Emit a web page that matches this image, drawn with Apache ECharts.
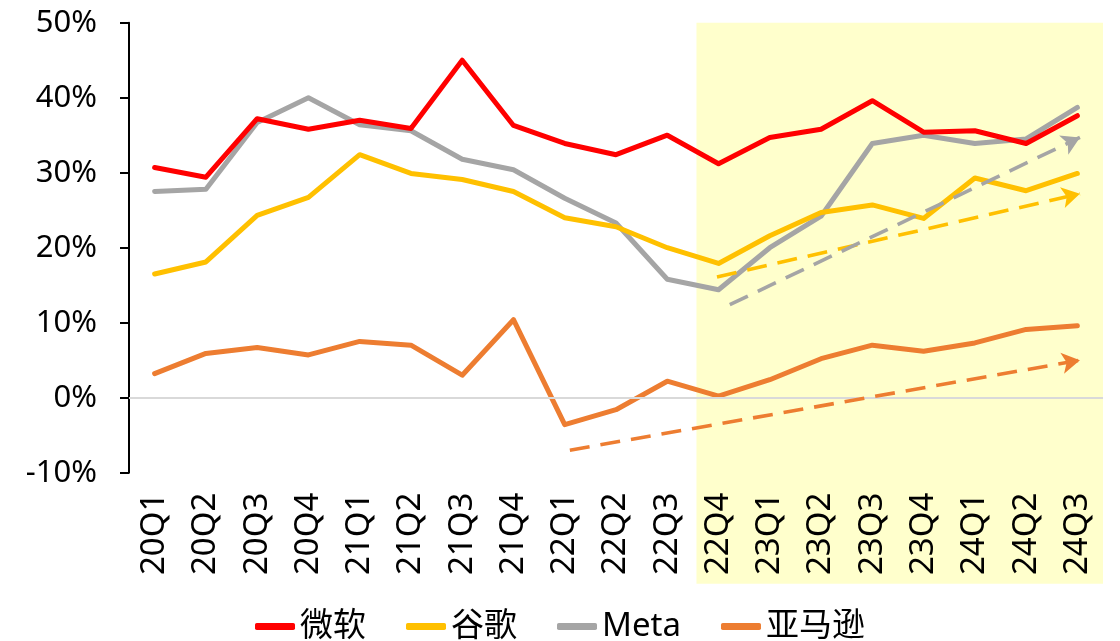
<!DOCTYPE html>
<html><head><meta charset="utf-8">
<script src="https://cdn.jsdelivr.net/npm/echarts@6/dist/echarts.min.js"></script>
<style>html,body{margin:0;padding:0;background:#fff}#c{width:1120px;height:641px}</style>
</head><body><div id="c"></div>
<script>
const categories = ['20Q1','20Q2','20Q3','20Q4','21Q1','21Q2','21Q3','21Q4','22Q1','22Q2','22Q3','22Q4','23Q1','23Q2','23Q3','23Q4','24Q1','24Q2','24Q3'];
const yTicks = [-10, 0, 10, 20, 30, 40, 50];
const microsoft = [30.7,29.4,37.2,35.8,37.0,35.9,45.0,36.3,33.9,32.4,35.0,31.2,34.7,35.8,39.6,35.4,35.6,33.9,37.6];
const google    = [16.5,18.1,24.3,26.7,32.4,29.9,29.1,27.5,24.0,22.8,20.0,17.9,21.6,24.7,25.7,23.9,29.3,27.6,29.9];
const meta      = [27.5,27.8,36.7,40.0,36.4,35.6,31.8,30.4,26.6,23.3,15.8,14.4,20.0,24.2,33.9,35.0,33.9,34.5,38.7];
const amazon    = [3.2,5.9,6.7,5.7,7.5,7.0,3.0,10.4,-3.6,-1.6,2.2,0.2,2.4,5.2,7.0,6.2,7.3,9.1,9.6];
const seriesNames = ['微软','谷歌','Meta','亚马逊'];
// trend arrows: [startIndex, startValue, endIndex, endValue]
const trendAmazon = [8.1, -7.0, 18.05, 5.0];
const trendGoogle = [10.97, 16.1, 18.05, 27.2];
const trendMeta   = [11.22, 12.4, 18.05, 34.7];
const highlightStart = 10.57;

const colors = ['#FF0000','#FFC000','#A5A5A5','#ED7D31'];
const FONT = "'Noto Sans','Noto Sans CJK SC',sans-serif";

const chart = echarts.init(document.getElementById('c'));
function lineSeries(name, data, color){
  return {name, type:'line', data, xAxisIndex:0, yAxisIndex:0, symbol:'none', smooth:false,
    lineStyle:{color, width:5, cap:'round', join:'round'}, itemStyle:{color}, z:3};
}
function trend(t, color){
  return {type:'line', xAxisIndex:1, yAxisIndex:0, data:[], silent:true, z:4,
    markLine:{silent:true, symbol:['none','arrow'], symbolSize:[16,18], label:{show:false},
      lineStyle:{color, width:3.6, type:[20,11], opacity:1}, emphasis:{disabled:true},
      data:[[{coord:[t[0],t[1]]},{coord:[t[2],t[3]]}]]}};
}
const option = {
  animation:false,
  textStyle:{fontFamily:FONT},
  grid:{left:129, right:17, top:22.7, bottom:168.3, containLabel:false},
  legend:{data:seriesNames, left:'center', top:605, itemWidth:40, itemHeight:7, itemGap:40,
    icon:'roundRect', textStyle:{fontSize:33, color:'#000', fontFamily:FONT}},
  xAxis:[{type:'category', data:categories, boundaryGap:true, position:'bottom',
      axisLine:{show:false, onZero:false}, axisTick:{show:false}, splitLine:{show:false},
      axisLabel:{rotate:90, fontSize:33, color:'#000', margin:20, interval:0, fontFamily:FONT}},
    {type:'value', min:-0.5, max:18.5, show:false, axisLine:{onZero:false}}],
  yAxis:{type:'value', min:yTicks[0], max:yTicks[yTicks.length-1], interval:10,
    axisLine:{show:true, onZero:false, lineStyle:{color:'#000', width:2}},
    axisTick:{show:true, inside:false, length:9, lineStyle:{color:'#000', width:2}},
    splitLine:{show:false},
    axisLabel:{formatter:'{value}%', fontSize:31, color:'#000', margin:32, fontFamily:FONT}},
  series:[
    {type:'line', data:[], xAxisIndex:0, yAxisIndex:0, silent:true, z:1,
      markLine:{silent:true, symbol:['none','none'], label:{show:false}, emphasis:{disabled:true},
        lineStyle:{color:'#D9D9D9', width:2, type:'solid'}, data:[{yAxis:0}]}},
    lineSeries(seriesNames[3], amazon, colors[3]),
    lineSeries(seriesNames[2], meta, colors[2]),
    lineSeries(seriesNames[1], google, colors[1]),
    lineSeries(seriesNames[0], microsoft, colors[0]),
    trend(trendAmazon, colors[3]),
    trend(trendGoogle, colors[1]),
    trend(trendMeta, colors[2])
  ]
};
chart.setOption(option);
const x0 = chart.convertToPixel({xAxisIndex:1}, highlightStart);
const x1 = chart.convertToPixel({xAxisIndex:1}, 18.5);
const yTop = chart.convertToPixel({yAxisIndex:0}, 50);
const yBot = chart.convertToPixel({yAxisIndex:0}, -10);
chart.setOption({graphic:[{type:'rect', z:-10, zlevel:0, silent:true,
  shape:{x:x0, y:yTop, width:x1-x0, height:(yBot-yTop)+111},
  style:{fill:'#FFFFCC'}}]});
</script></body></html>
